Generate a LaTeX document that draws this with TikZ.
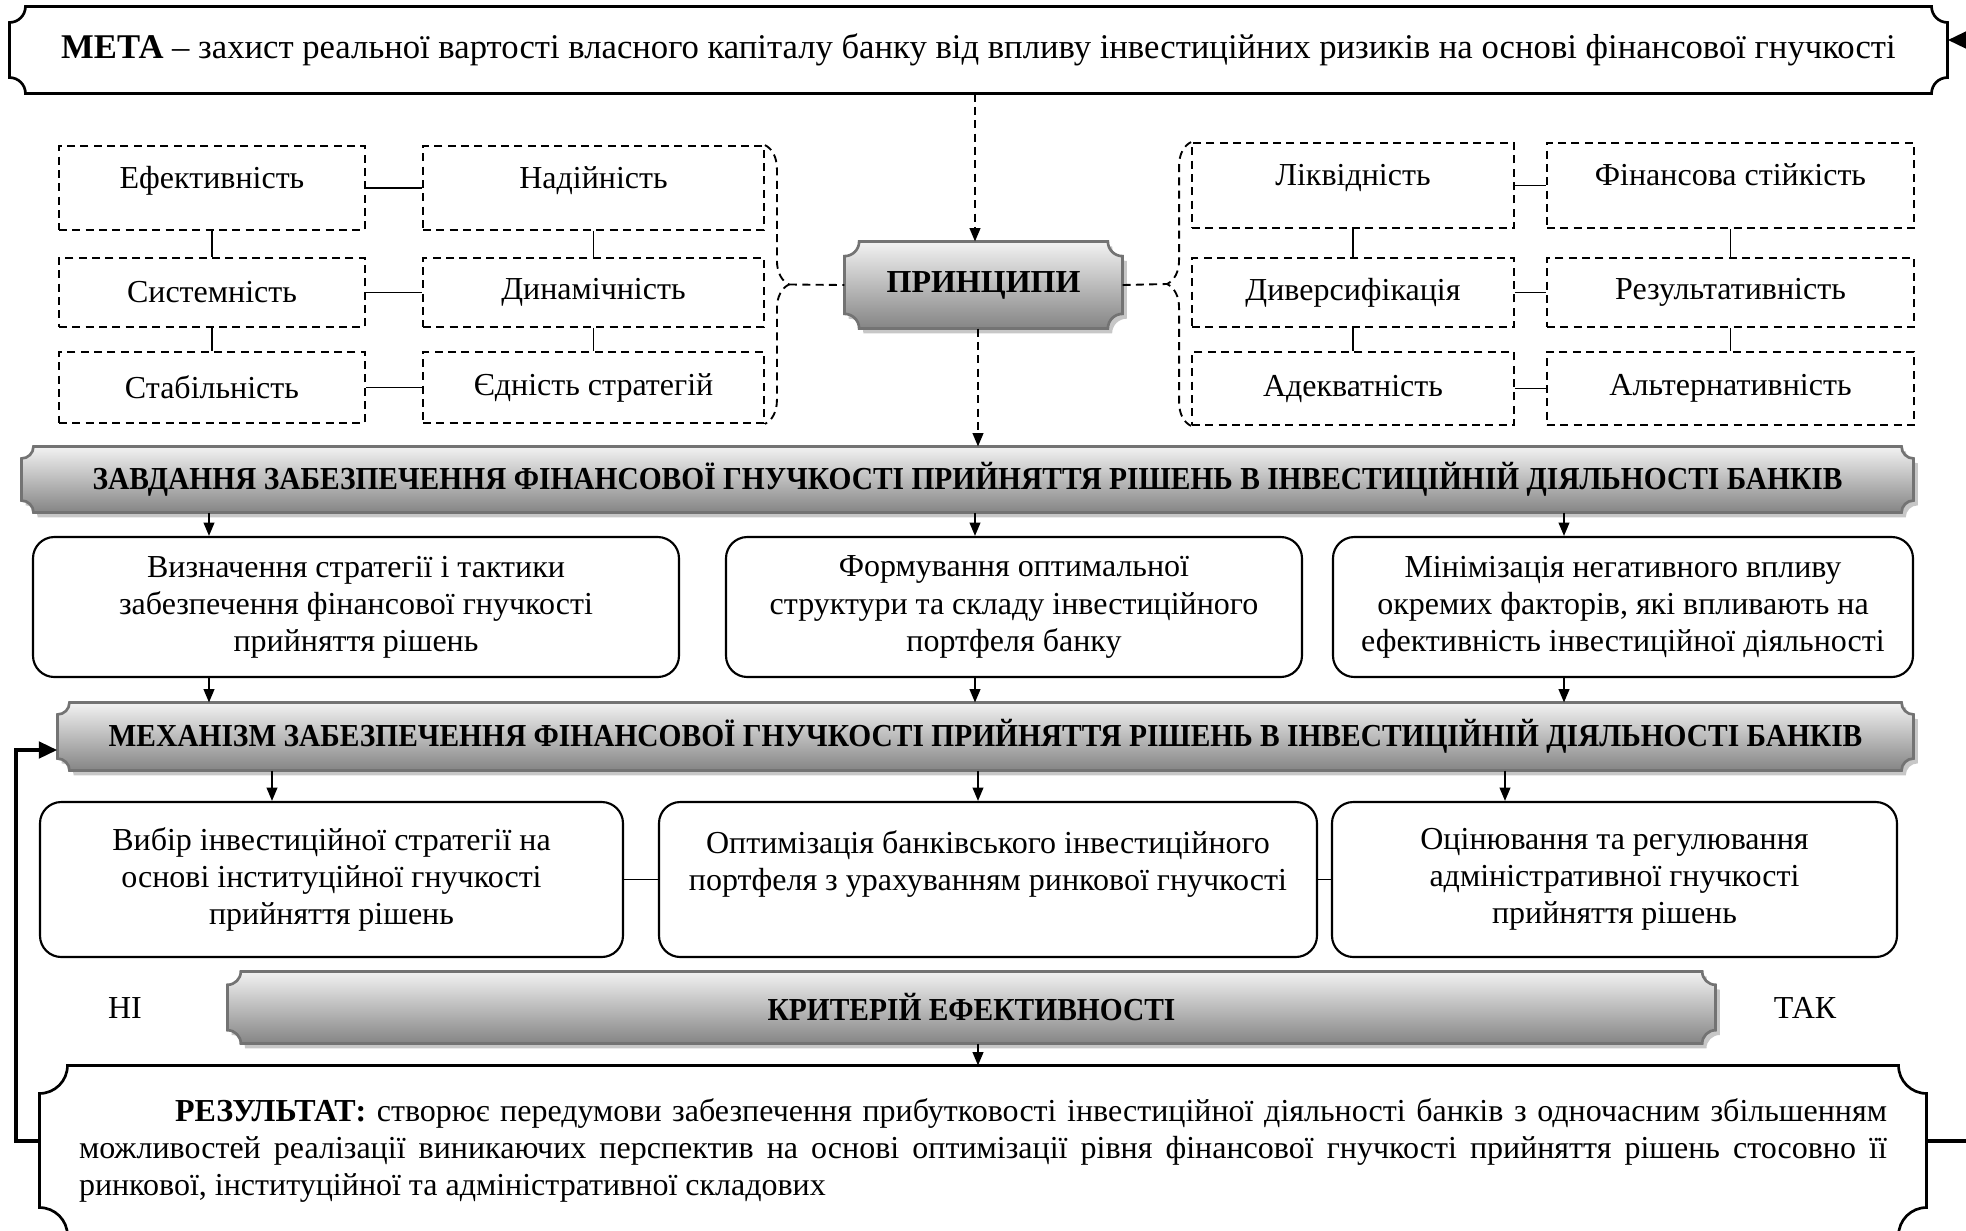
\documentclass[tikz,border=0pt]{standalone}
\usepackage{fontspec}
\setmainfont{Liberation Serif}
\newfontfamily\bandfont{Liberation Serif}[FakeStretch=0.92]
\usetikzlibrary{arrows.meta,calc,backgrounds,decorations.pathreplacing}

% box with cut-in (concave) corners, drawn round a named node
\newcommand{\plaquepath}[2]{%
  ([yshift=#2]#1.south west) -- ([yshift=-#2]#1.north west)
  arc[start angle=-90,end angle=0,radius=#2] -- ([xshift=-#2]#1.north east)
  arc[start angle=180,end angle=270,radius=#2] -- ([yshift=#2]#1.south east)
  arc[start angle=90,end angle=180,radius=#2] -- ([xshift=#2]#1.south west)
  arc[start angle=0,end angle=90,radius=#2] -- cycle}

\tikzset{
  txt/.style={font=\fontsize{12}{13.9}\selectfont, align=center},
  wh/.style 2 args={minimum width=#1*0.375pt, minimum height=#2*0.375pt},
  dsh/.style={dash pattern=on 3pt off 2pt, line width=0.7pt},
  dbox/.style={txt, draw, dsh},
  toprow/.style={text depth=8pt},
  rbox/.style={txt, draw, rounded corners=8pt, line width=0.8pt},
  hub/.style={txt, font=\fontsize{12}{13.9}\selectfont\bfseries},
  band/.style={txt, font=\fontsize{12}{13.9}\bandfont\bfseries},
  bandfill/.style={draw=black!55, line width=1pt, top color=black!5, bottom color=black!48},
  bandshadow/.style={fill=black!22, transform canvas={shift={(1.6pt,-1.8pt)}}},
  link/.style={line width=0.6pt},
  arr/.style={line width=0.7pt, -{Triangle[length=5pt,width=4pt]}},
  darr/.style={arr, dash pattern=on 3pt off 2pt},
  fb/.style={line width=1.8pt, -{Triangle[length=7pt,width=6pt]}},
}

\begin{document}
\begin{tikzpicture}[x=0.375pt, y=-0.375pt]
    \useasboundingbox (0,0) rectangle (1966,1230);

    % Goal
    \node[txt, font=\fontsize{13}{15}\selectfont, wh={1937}{86}] (meta) at (978.5,50) {\textbf{МЕТА} – захист реальної вартості власного капіталу банку від впливу інвестиційних ризиків на основі фінансової гнучкості};
    \draw[line width=1pt] \plaquepath{meta}{6pt};

    % Principles hub
    \node[hub, wh={277}{86}] (pr) at (983.5,285) {ПРИНЦИПИ};

    % Principles, left group
    \node[dbox, toprow, wh={306}{84}] (ef)  at (212,188)   {Ефективність};
    \node[dbox, toprow, wh={341}{84}] (nad) at (593.5,188) {Надійність};
    \node[dbox, wh={306}{69}] (sys)  at (212,292.5)   {Системність};
    \node[dbox, wh={341}{69}] (dyn)  at (593.5,292.5) {Динамічність};
    \node[dbox, wh={306}{71}] (stab) at (212,387.5)   {Стабільність};
    \node[dbox, wh={341}{71}] (yed)  at (593.5,387.5) {Єдність стратегій};

    % Principles, right group
    \node[dbox, toprow, wh={322}{85}] (liq) at (1353,185.5)   {Ліквідність};
    \node[dbox, toprow, wh={367}{85}] (fin) at (1730.5,185.5) {Фінансова стійкість};
    \node[dbox, wh={322}{69}] (div)  at (1353,292.5)   {Диверсифікація};
    \node[dbox, wh={367}{69}] (rez)  at (1730.5,292.5) {Результативність};
    \node[dbox, wh={322}{73}] (adeq) at (1353,388.5)   {Адекватність};
    \node[dbox, wh={367}{73}] (alt)  at (1730.5,388.5) {Альтернативність};

    % Links inside the groups
    \draw[link] (ef) -- (nad) (sys) -- (dyn) (stab) -- (yed);
    \draw[link] (ef) -- (sys) (sys) -- (stab) (nad) -- (dyn) (dyn) -- (yed);
    \draw[link] (liq) -- (fin) (div) -- (rez) (adeq) -- (alt);
    \draw[link] (liq) -- (div) (div) -- (adeq) (fin) -- (rez) (rez) -- (alt);

    % Braces to the hub
    \draw[dsh, decorate, decoration={brace, amplitude=9pt}] (nad.north east) -- (yed.south east);
    \draw[dsh, decorate, decoration={brace, amplitude=9pt}] (adeq.south west) -- (liq.north west);
    \coordinate (lbt) at ($(nad.north east)!0.5!(yed.south east)+(9pt,0)$);
    \coordinate (rbt) at ($(liq.north west)!0.5!(adeq.south west)+(-9pt,0)$);
    \draw[dsh] (lbt) -- (pr.west);
    \draw[dsh] (pr.east) -- (rbt);

    % Columns of the arrows
    \coordinate (xa) at (209,0);
    \coordinate (xb) at (975,0);
    \coordinate (xc) at (1564,0);
    \coordinate (xd) at (272,0);
    \coordinate (xe) at (978,0);
    \coordinate (xf) at (1505,0);

    % Tasks
    \node[band, wh={1891}{65}] (zav) at (967.5,479.5) {ЗАВДАННЯ ЗАБЕЗПЕЧЕННЯ ФІНАНСОВОЇ ГНУЧКОСТІ ПРИЙНЯТТЯ РІШЕНЬ В ІНВЕСТИЦІЙНІЙ ДІЯЛЬНОСТІ БАНКІВ};
    \node[rbox, wh={646}{140}] (t1) at (356,607)  {Визначення стратегії і тактики\\забезпечення фінансової гнучкості\\прийняття рішень};
    \node[rbox, wh={576}{140}] (t2) at (1014,607) {Формування оптимальної\\структури та складу інвестиційного\\портфеля банку};
    \node[rbox, wh={580}{140}] (t3) at (1623,607) {Мінімізація негативного впливу\\окремих факторів, які впливають на\\ефективність інвестиційної діяльності};

    \draw[darr] (meta.south -| xb) -- (pr.north -| xb);
    \draw[darr] (pr.south -| xe) -- (zav.north -| xe);
    \draw[arr] (zav.south -| xa) -- (t1.north -| xa);
    \draw[arr] (zav.south -| xb) -- (t2.north -| xb);
    \draw[arr] (zav.south -| xc) -- (t3.north -| xc);

    % Mechanism
    \node[band, wh={1855}{67}] (meh) at (985.5,736.5) {МЕХАНІЗМ ЗАБЕЗПЕЧЕННЯ ФІНАНСОВОЇ ГНУЧКОСТІ ПРИЙНЯТТЯ РІШЕНЬ В ІНВЕСТИЦІЙНІЙ ДІЯЛЬНОСТІ БАНКІВ};
    \draw[arr] (t1.south -| xa) -- (meh.north -| xa);
    \draw[arr] (t2.south -| xb) -- (meh.north -| xb);
    \draw[arr] (t3.south -| xc) -- (meh.north -| xc);

    \node[rbox, wh={583}{155}] (m1) at (331.5,879.5)  {Вибір інвестиційної стратегії на\\основі інституційної гнучкості\\прийняття рішень};
    \node[rbox, wh={658}{155}] (m2) at (988,879.5)    {Оптимізація банківського інвестиційного\\портфеля з урахуванням ринкової гнучкості\\\mbox{}};
    \node[rbox, wh={565}{155}] (m3) at (1614.5,879.5) {Оцінювання та регулювання\\адміністративної гнучкості\\прийняття рішень};
    \draw[arr] (meh.south -| xd) -- (m1.north -| xd);
    \draw[arr] (meh.south -| xe) -- (m2.north -| xe);
    \draw[arr] (meh.south -| xf) -- (m3.north -| xf);
    \draw[link] (m1) -- (m2) (m2) -- (m3);

    % Criterion
    \node[band, wh={1487}{71}] (krit) at (971.5,1007.5) {КРИТЕРІЙ ЕФЕКТИВНОСТІ};
    \node[txt] (no)  at (125,1008)  {НІ};
    \node[txt] (yes) at (1805,1008) {ТАК};

    % Result
    \node[txt, wh={1886}{169}, text width=678pt, align=justify] (result) at (983,1150.5) {\hspace*{36pt}\textbf{РЕЗУЛЬТАТ:} створює передумови забезпечення прибутковості інвестиційної діяльності банків з одночасним збільшенням\linebreak можливостей реалізації виникаючих перспектив на основі оптимізації рівня фінансової гнучкості прийняття рішень стосовно її\linebreak ринкової, інституційної та адміністративної складових};
    \draw[line width=1pt] \plaquepath{result}{10.5pt};
    \draw[arr] (krit.south -| xe) -- (result.north -| xe);

    % Feedback loops
    \coordinate (fbl) at (16,750);
    \coordinate (fbr) at (2010,40);
    \coordinate (yfb) at (0,1141);
    \draw[fb] (result.west |- yfb) -| (fbl) -- (meh.west |- fbl);
    \draw[fb] (result.east |- yfb) -| (fbr) -- (meta.east |- fbr);

    % Shaded bands behind the texts
    \begin{scope}[on background layer]
        \foreach \n/\r in {pr/5.5pt, zav/4.5pt, meh/4.5pt, krit/5pt} {
            \fill[bandshadow] \plaquepath{\n}{\r};
            \path[bandfill] \plaquepath{\n}{\r};
        }
    \end{scope}

\end{tikzpicture}
\end{document}
